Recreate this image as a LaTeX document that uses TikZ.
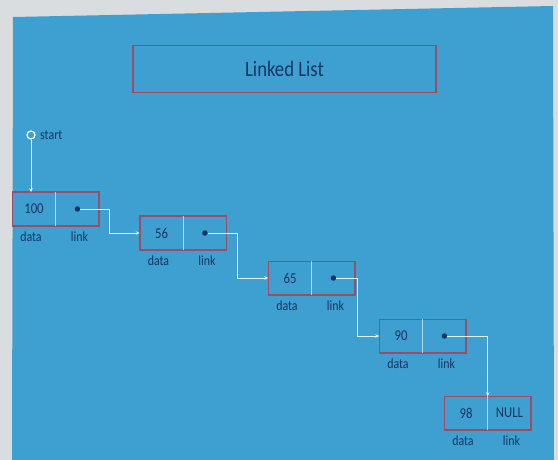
\documentclass[tikz,border=0pt]{standalone}
\usepackage{fontspec}
\setmainfont{Carlito}
\usetikzlibrary{arrows.meta}
\definecolor{panel}{HTML}{3E9FD1}
\definecolor{paper}{HTML}{DADDDF}
\definecolor{boxred}{HTML}{9E4C64}
\definecolor{ink}{HTML}{1A3560}
\newcommand{\cnd}[1]{\scalebox{0.85}[1]{#1}}
\tikzset{
  cell/.style={minimum width=43pt, minimum height=33pt, inner sep=0pt, text=ink, font=\fontsize{15}{15}\selectfont},
  lbl/.style={text=ink, font=\fontsize{14}{14}\selectfont, inner sep=0pt},
  outline/.style={draw=boxred, line width=1.6pt},
  divider/.style={draw=white, opacity=0.6, line width=0.5pt},
  conn/.style={draw=white, opacity=0.85, line width=0.6pt, -{Stealth[length=4pt,width=3.5pt]}},
  ptr/.style={circle, fill=ink, inner sep=0pt, minimum size=5.5pt},
}
\begin{document}
\begin{tikzpicture}[x=1pt,y=-1pt]
\useasboundingbox (0,0) rectangle (558,460);
\fill[paper] (0,0) rectangle (558,460);
\fill[panel] (13,17) -- (553,6) -- (554,460) -- (12,460) -- cycle;

% title
\node[draw=boxred, line width=1.3pt, minimum width=303pt, minimum height=47pt, inner sep=0pt,
      text=ink, font=\fontsize{22}{22}\selectfont] (title) at (284.5,69) {\cnd{Linked List}};

% start
\node[circle, draw=white, line width=1.2pt, minimum size=8pt, inner sep=0pt] (start) at (31,135) {};
\node[lbl, anchor=west] (startlbl) at (40,135) {\cnd{start}};

% list nodes
\foreach \n/\x/\y/\v in {1/34/209/100, 2/161.5/233/56, 3/290/278/65, 4/401/336/90, 5/466/413/98}{
  \node[cell] (n\n d) at (\x,\y) {\cnd{\v}};
  \node[cell, anchor=west] (n\n l) at (n\n d.east) {};
  \draw[outline] (n\n d.north west) rectangle (n\n l.south east);
  \draw[divider] (n\n d.north east) -- (n\n d.south east);
  \node[lbl] (n\n dl) at ([yshift=-11pt, xshift=-3pt]n\n d.south) {\cnd{data}};
  \node[lbl] (n\n ll) at ([yshift=-11pt, xshift=2pt]n\n l.south) {\cnd{link}};
}
\foreach \n in {1,2,3,4}{
  \node[ptr] (p\n) at (n\n l.center) {};
}
\node[cell] (nullt) at (n5l.center) {\cnd{NULL}};

% connectors
\draw[conn] (start.south) -- (start.south |- n1d.north);
\draw[conn] (p1) -- ++(32,0) |- (n2d.west);
\draw[conn] (p2) -- ++(32,0) |- (n3d.west);
\draw[conn] (p3) -- ++(24,0) |- (n4d.west);
\draw[conn] (p4) -| (n5d.north east);
\end{tikzpicture}
\end{document}
